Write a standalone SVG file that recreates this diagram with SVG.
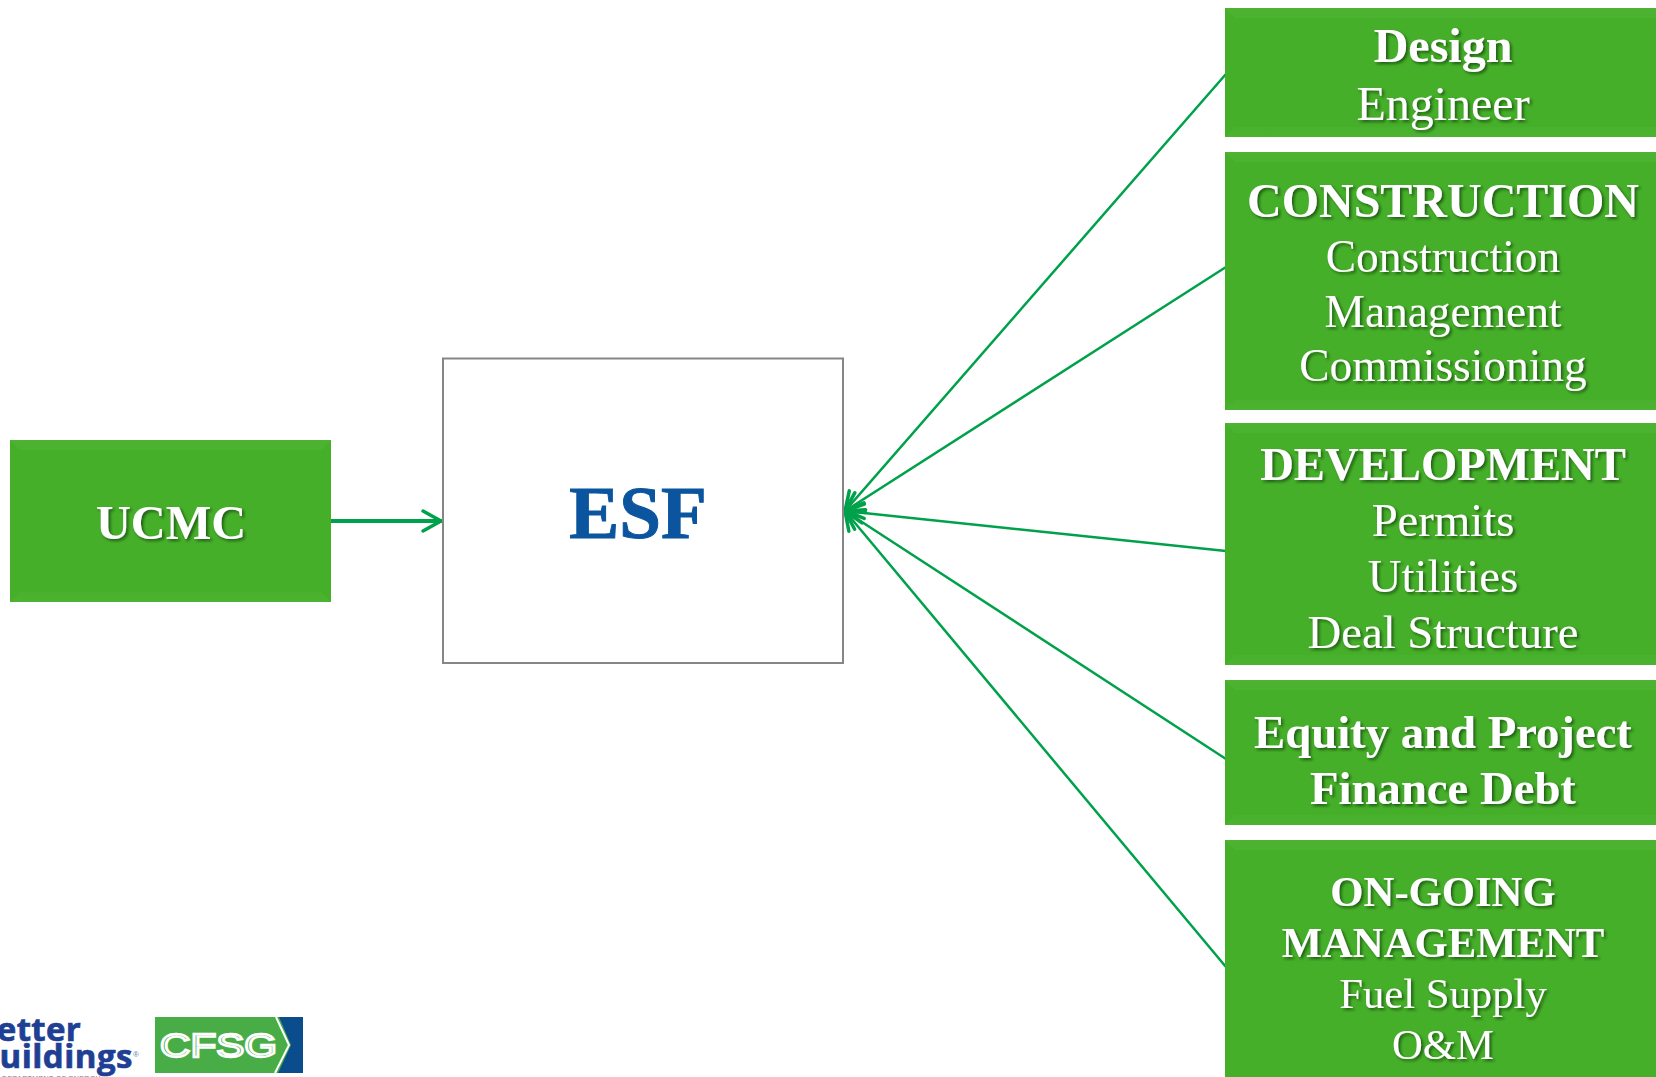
<svg xmlns="http://www.w3.org/2000/svg" width="1656" height="1077" viewBox="0 0 1656 1077">
<style>
.box{fill:#46af2a}
.bev{fill:url(#bt)}
.bevb{fill:url(#bb)}
.t{font-family:"Liberation Serif",serif;fill:#fff;text-anchor:middle;filter:url(#ts)}
.b{font-weight:700}
.c{stroke:#00a14b;fill:none;stroke-linecap:round;stroke-linejoin:round}
.logo{font-family:"Open Sans","Liberation Sans",sans-serif;font-weight:700;fill:#1f3f94;stroke:#1f3f94;stroke-width:.7;text-anchor:end}
</style>
<defs>
<filter id="ts" x="-10%" y="-20%" width="120%" height="150%"><feDropShadow dx="2" dy="2" stdDeviation="1.5" flood-color="#174d0c" flood-opacity="0.85"/></filter>
<linearGradient id="bt" x1="0" y1="0" x2="0" y2="1"><stop offset="0" stop-color="#4db332"/><stop offset="1" stop-color="#4ab32f"/></linearGradient>
<linearGradient id="bb" x1="0" y1="0" x2="0" y2="1"><stop offset="0" stop-color="#4ab12e"/><stop offset="1" stop-color="#4cb231"/></linearGradient>
<marker id="ah" markerUnits="userSpaceOnUse" markerWidth="24" markerHeight="28" refX="21" refY="14" orient="auto"><path d="M3 4 L21 14 L3 24" fill="none" stroke="#00a14b" stroke-width="3.500" stroke-linecap="round" stroke-linejoin="round"/></marker>
</defs>
<rect width="1656" height="1077" fill="#fff"/>
<g id="connectors">
<line class="c" x1="331" y1="521" x2="441" y2="521" stroke-width="4" marker-end="url(#ah)"/>
<line class="c" x1="1226" y1="74" x2="845" y2="511" stroke-width="2.500" marker-end="url(#ah)"/>
<line class="c" x1="1226" y1="267" x2="845" y2="511" stroke-width="2.500" marker-end="url(#ah)"/>
<line class="c" x1="1226" y1="551" x2="845" y2="511" stroke-width="2.500" marker-end="url(#ah)"/>
<line class="c" x1="1226" y1="759" x2="845" y2="511" stroke-width="2.500" marker-end="url(#ah)"/>
<line class="c" x1="1226" y1="967" x2="845" y2="511" stroke-width="2.500" marker-end="url(#ah)"/>
</g>
<g id="ucmc">
<rect class="box" x="10" y="440" width="321" height="162"/>
<path class="bev" d="M10 440H331L321 450H20Z"/><path class="bevb" d="M10 602H331L321 592H20Z"/>
<text class="t b" x="171" y="539" font-size="48.300">UCMC</text>
</g>
<g id="esf">
<rect x="443" y="358.500" width="400" height="304.500" fill="#fff" stroke="#868686" stroke-width="2"/>
<text x="638" y="538" font-family="'Liberation Serif',serif" font-size="75" font-weight="700" fill="#0b559f" stroke="#0b559f" stroke-width="1" text-anchor="middle">ESF</text>
</g>
<g id="design">
<rect class="box" x="1225" y="8" width="431" height="129"/>
<path class="bev" d="M1225 8H1656V18H1235Z"/><path class="bevb" d="M1225 137H1656V127H1235Z"/>
<text class="t b" x="1443" y="62" font-size="48">Design</text>
<text class="t" x="1443" y="120" font-size="48">Engineer</text>
</g>
<g id="construction">
<rect class="box" x="1225" y="152" width="431" height="258"/>
<path class="bev" d="M1225 152H1656V162H1235Z"/><path class="bevb" d="M1225 410H1656V400H1235Z"/>
<text class="t b" x="1443" y="217" font-size="48">CONSTRUCTION</text>
<text class="t" x="1443" y="272" font-size="45.400">Construction</text>
<text class="t" x="1443" y="327" font-size="45.400">Management</text>
<text class="t" x="1443" y="381" font-size="45.400">Commissioning</text>
</g>
<g id="development">
<rect class="box" x="1225" y="423" width="431" height="242"/>
<path class="bev" d="M1225 423H1656V433H1235Z"/><path class="bevb" d="M1225 665H1656V655H1235Z"/>
<text class="t b" x="1443" y="480" font-size="46.700">DEVELOPMENT</text>
<text class="t" x="1443" y="536" font-size="46.700">Permits</text>
<text class="t" x="1443" y="592" font-size="46.700">Utilities</text>
<text class="t" x="1443" y="648" font-size="46.700">Deal Structure</text>
</g>
<g id="equity">
<rect class="box" x="1225" y="680" width="431" height="145"/>
<path class="bev" d="M1225 680H1656V690H1235Z"/><path class="bevb" d="M1225 825H1656V815H1235Z"/>
<text class="t b" x="1443" y="748" font-size="46.700">Equity and Project</text>
<text class="t b" x="1443" y="804" font-size="46.700">Finance Debt</text>
</g>
<g id="ongoing">
<rect class="box" x="1225" y="840" width="431" height="237"/>
<path class="bev" d="M1225 840H1656V850H1235Z"/>
<text class="t b" x="1443" y="906" font-size="42.700">ON-GOING</text>
<text class="t b" x="1443" y="957" font-size="42.700">MANAGEMENT</text>
<text class="t" x="1443" y="1008" font-size="42.700">Fuel Supply</text>
<text class="t" x="1443" y="1059" font-size="42.700">O&amp;M</text>
</g>
<g id="logos">
<text class="logo" x="81" y="1041" font-size="33" letter-spacing=".3">Better</text>
<text class="logo" x="133" y="1068" font-size="33" letter-spacing=".5">Buildings</text>
<text x="133" y="1057" font-family="'Liberation Sans',sans-serif" font-size="8" fill="#5f7fb5">®</text>
<text x="2" y="1081" font-family="'Liberation Sans',sans-serif" font-size="7" fill="#6d7f8f" letter-spacing=".4">DEPARTMENT OF ENERGY</text>
<rect x="155" y="1017" width="148" height="56" fill="#48ad46"/>
<path d="M279 1017H303V1073H278L291 1045Z" fill="#0b4c8c"/>
<path d="M276 1017L289 1045L275 1073" fill="none" stroke="#fff" stroke-width="2"/>
<text x="160" y="1056.500" font-family="'Liberation Sans',sans-serif" font-size="33" fill="#48ad46" stroke="#fff" stroke-width="2.300" textLength="117" lengthAdjust="spacingAndGlyphs">CFSG</text>
</g>
</svg>
